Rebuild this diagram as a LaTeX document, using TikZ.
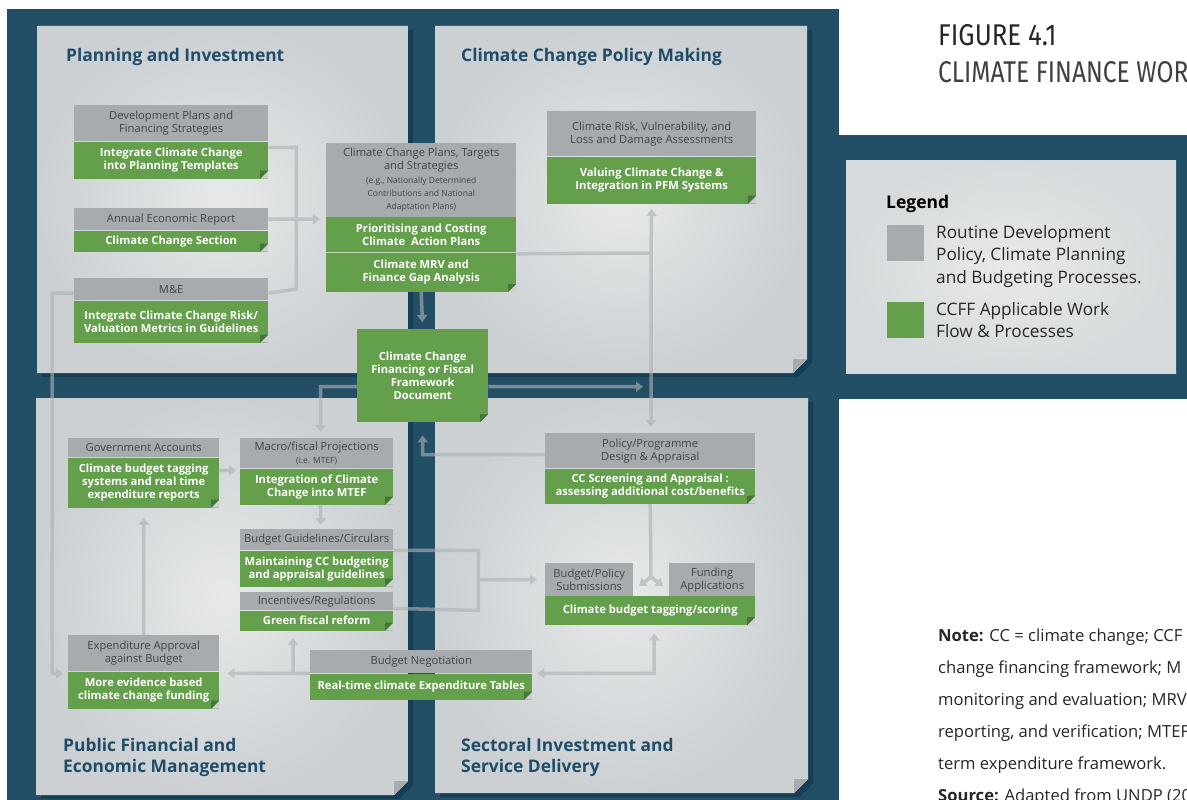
\documentclass[tikz,border=0pt]{standalone}
\usepackage{fontspec}
\setmainfont{Open Sans}
\newfontfamily\figfont[FakeStretch=0.86]{Fira Sans}
\newfontfamily\figlight[FakeStretch=0.82]{Fira Sans}
\usetikzlibrary{positioning,arrows.meta}

\definecolor{darkbg}{RGB}{35,79,102}
\definecolor{shadowbg}{RGB}{22,62,84}
\definecolor{panelhi}{RGB}{231,233,234}
\definecolor{panello}{RGB}{204,208,210}
\definecolor{headgray}{RGB}{167,171,173}
\definecolor{headtext}{RGB}{66,68,70}
\definecolor{flowgreen}{RGB}{100,160,76}
\definecolor{foldgreen}{RGB}{70,118,54}
\definecolor{titleblue}{RGB}{31,77,105}
\definecolor{connc}{RGB}{172,178,182}
\definecolor{foldgray}{RGB}{168,171,173}

\newcommand{\smallnote}{\fontsize{8.5}{10.5}\selectfont}

\tikzset{
  hd/.style={fill=headgray, text=headtext, align=center, inner sep=0pt, anchor=north west,
    font=\fontsize{11.2}{13}\selectfont},
  gr/.style={fill=flowgreen, text=white, align=center, inner sep=0pt,
    font=\bfseries\fontsize{11.2}{13}\selectfont},
  fold/.style={path picture={
      \fill[panello] (path picture bounding box.south east) -- ++(-8pt,0pt) -- ++(8pt,8pt) -- cycle;
      \fill[foldgreen] (path picture bounding box.south east) ++(-8pt,0pt) -- ++(8pt,8pt) -- ++(-8pt,0pt) -- cycle;}},
  conn/.style={draw=connc, line width=3.5pt},
  paneltitle/.style={inner sep=0pt, align=left, text=titleblue, font=\bfseries\fontsize{17.4}{21}\selectfont}
}

\begin{document}
\begin{tikzpicture}[x=1pt, y=-1pt, >={Triangle[length=7pt,width=10pt]}]
\useasboundingbox (0,0) rectangle (1187,800);
\clip (0,0) rectangle (1187,800);
\fill[white] (0,0) rectangle (1187,800);

% dark frame
\fill[darkbg] (7,9) rectangle (839,800);
\fill[darkbg] (839,135) rectangle (1187,399);

% four panels
\fill[shadowbg] (42,30) -- (413,30) -- (413,363) -- (399,377) -- (42,377) -- cycle;
\shade[inner color=panelhi, outer color=panello] (37,26) -- (408,26) -- (408,359) -- (394,373) -- (37,373) -- cycle;
\fill[foldgray] (408,359) -- (394,373) -- (394,359) -- cycle;

\fill[shadowbg] (440,30) -- (812,30) -- (812,363) -- (798,377) -- (440,377) -- cycle;
\shade[inner color=panelhi, outer color=panello] (435,26) -- (807,26) -- (807,359) -- (793,373) -- (435,373) -- cycle;
\fill[foldgray] (807,359) -- (793,373) -- (793,359) -- cycle;

\fill[shadowbg] (41,402) -- (413,402) -- (413,785) -- (399,799) -- (41,799) -- cycle;
\shade[inner color=panelhi, outer color=panello] (36,398) -- (408,398) -- (408,781) -- (394,795) -- (36,795) -- cycle;
\fill[foldgray] (408,781) -- (394,795) -- (394,781) -- cycle;

\fill[shadowbg] (440,402) -- (813,402) -- (813,783) -- (799,797) -- (440,797) -- cycle;
\shade[inner color=panelhi, outer color=panello] (435,398) -- (808,398) -- (808,779) -- (794,793) -- (435,793) -- cycle;
\fill[foldgray] (808,779) -- (794,793) -- (794,779) -- cycle;

% legend panel
\shade[inner color=panelhi, outer color=panello!60!panelhi] (846,160) rectangle (1176,373);

% panel titles
\node[paneltitle, anchor=base west] (plantitle) at (66,62) {Planning and Investment};
\node[paneltitle, anchor=base west] (policytitle) at (461,62) {Climate Change Policy Making};
\node[paneltitle, anchor=north west] (pfemtitle) at (63,738) {Public Financial and\\Economic Management};
\node[paneltitle, anchor=north west] (sisdtitle) at (461,738) {Sectoral Investment and\\Service Delivery};

% Planning and Investment
\node[hd, minimum width=194, minimum height=36] (devhd) at (74,105) {Development Plans and\\Financing Strategies};
\node[gr, fold, minimum width=194, minimum height=37, below=0pt of devhd] (devgr) {Integrate Climate Change\\into Planning Templates};
\node[hd, minimum width=194, minimum height=22] (aerhd) at (74,208) {Annual Economic Report};
\node[gr, fold, minimum width=194, minimum height=21, below=0pt of aerhd] (aergr) {Climate Change Section};
\node[hd, minimum width=194, minimum height=22] (mehd) at (74,278) {M\&E};
\node[gr, fold, minimum width=194, minimum height=42, below=0pt of mehd] (megr) {Integrate Climate Change Risk/\\Valuation Metrics in Guidelines};

% Climate Change Policy Making
\node[hd, minimum width=190, minimum height=74] (cchd) at (326,143) {Climate Change Plans, Targets\\and Strategies\\[1pt]{\smallnote (e.g., Nationally Determined}\\{\smallnote Contributions and National}\\{\smallnote Adaptation Plans)}};
\node[gr, minimum width=190, minimum height=37, below=-1pt of cchd] (ccgr1) {Prioritising and Costing\\Climate~ Action Plans};
\node[gr, fold, minimum width=190, minimum height=39, below=-1pt of ccgr1] (ccgr2) {Climate MRV and\\Finance Gap Analysis};
\draw[white!55!flowgreen, line width=1pt] (ccgr2.north west) -- (ccgr2.north east);
\node[hd, minimum width=209, minimum height=45] (riskhd) at (547,111) {Climate Risk, Vulnerability, and\\Loss and Damage Assessments};
\node[gr, fold, minimum width=209, minimum height=47, below=0pt of riskhd] (riskgr) {Valuing Climate Change \&\\Integration in PFM Systems};

% the framework document in the middle
\node[gr, fold, minimum width=131, minimum height=93, anchor=north west] (ccff) at (357,329) {Climate Change\\Financing or Fiscal\\Framework\\Document};

% Public Financial and Economic Management
\node[hd, minimum width=151, minimum height=19] (govhd) at (68,438) {Government Accounts};
\node[gr, fold, minimum width=151, minimum height=50, below=0pt of govhd] (govgr) {Climate budget tagging\\systems and real time\\expenditure reports};
\node[hd, minimum width=153, minimum height=30] (machd) at (240,438) {Macro/fiscal Projections\\{\smallnote (i.e. MTEF)}};
\node[gr, fold, minimum width=153, minimum height=36, below=0pt of machd] (macgr) {Integration of Climate\\Change into MTEF};
\node[hd, minimum width=153, minimum height=21] (bghd) at (240,529) {Budget Guidelines/Circulars};
\node[gr, fold, minimum width=153, minimum height=36, below=0pt of bghd] (bggr) {Maintaining CC budgeting\\and appraisal guidelines};
\node[hd, minimum width=153, minimum height=18] (inchd) at (240,592) {Incentives/Regulations};
\node[gr, fold, minimum width=153, minimum height=20, below=0pt of inchd] (incgr) {Green fiscal reform};
\node[hd, minimum width=151, minimum height=36] (exphd) at (68,635) {Expenditure Approval\\against Budget};
\node[gr, fold, minimum width=151, minimum height=37, below=0pt of exphd] (expgr) {More evidence based\\climate change funding};
\node[hd, minimum width=222, minimum height=23] (neghd) at (310,650) {Budget Negotiation};
\node[gr, fold, minimum width=222, minimum height=26, below=0pt of neghd] (neggr) {Real-time climate Expenditure Tables};

% Sectoral Investment and Service Delivery
\node[hd, minimum width=210, minimum height=35] (polhd) at (545,433) {Policy/Programme\\Design \& Appraisal};
\node[gr, fold, minimum width=210, minimum height=35, below=0pt of polhd] (polgr) {CC Screening and Appraisal :\\assessing additional cost/benefits};
\node[hd, minimum width=88, minimum height=33] (subhd) at (545,563) {Budget/Policy\\Submissions};
\node[hd, minimum width=86, minimum height=33] (fundhd) at (669,563) {Funding\\Applications};
\node[gr, fold, minimum width=210, minimum height=29, anchor=north west] (taggr) at (545,596) {Climate budget tagging/scoring};

% connectors
\coordinate (riskjoin) at (651,253);
\coordinate (forkjoin) at (651,577);
\begin{scope}[transparency group, opacity=0.62]
  \draw[conn] ([yshift=-6pt]devgr.north east) -| ([xshift=28pt]mehd.east) -- ([yshift=-4pt]mehd.east);
  \draw[conn,->, shorten >=6pt] (aerhd.east) -- (aerhd.east -| cchd.west);
  \draw[conn,->, shorten >=5pt] ([yshift=-4pt]mehd.west) -- ++(-22,0) |- ([yshift=-2pt]expgr.north west);
  \draw[conn,->, shorten >=7pt] (ccgr2.south) -- (ccff.north);
  \draw[conn] (ccgr1.south east) -- (riskjoin);
  \draw[conn,->, shorten >=5pt] (riskjoin) -- (riskgr.south);
  \draw[conn,->, shorten >=6pt] (riskjoin) -- (riskjoin |- polhd.north);
  \draw[conn,->, shorten >=8pt] ([yshift=-11pt]ccff.east) -- ([yshift=-11pt]ccff.east -| riskjoin);
  \draw[conn,->, shorten >=6pt] ([yshift=-11pt]ccff.west) -| ([xshift=4pt]machd.north);
  \draw[conn,->, shorten >=13pt] ([yshift=-4pt]polhd.west) -| (ccff.south);
  \draw[conn,->, shorten >=4pt] ([yshift=-13pt]govgr.north east) -- ([yshift=-13pt]govgr.north east -| machd.west);
  \draw[conn,->, shorten >=4pt] ([xshift=4pt]macgr.south) -- ([xshift=4pt]bghd.north);
  \draw[conn,->, shorten >=10pt] (exphd.north) -- (govgr.south);
  \draw[conn,->, shorten >=8pt] (neghd.south west) -- (neghd.south west -| expgr.east);
  \draw[conn,->, shorten >=7pt] ([xshift=-17pt]neghd.south west) -- ([xshift=-17pt]neghd.south west |- incgr.south);
  \draw[conn] (bghd.south east) -| ([xshift=85pt]inchd.south east) -- ([yshift=2pt]inchd.south east);
  \draw[conn,->, shorten >=8pt] ([xshift=85pt]bghd.south east |- subhd.west) -- (subhd.west);
  \draw[conn] (polgr.south) -- (forkjoin);
  \draw[conn,->] (forkjoin) -- ++(-12,9);
  \draw[conn,->] (forkjoin) -- ++(12,9);
  \draw[conn,<->, shorten <=5pt, shorten >=8pt] (neghd.south east) -| ([xshift=4pt]taggr.south);
\end{scope}

% legend
\node[anchor=base west, inner sep=0pt, font=\bfseries\fontsize{17.5}{20}\selectfont] (legtitle) at (886,208) {Legend};
\node[fill=headgray, minimum width=37, minimum height=36, inner sep=0pt, anchor=north west] (leggray) at (887,225) {};
\node[fill=flowgreen, minimum width=37, minimum height=36, inner sep=0pt, anchor=north west] (leggreen) at (887,302) {};
\node[anchor=north west, inner sep=0pt, align=left, text=black!85, font=\fontsize{17.2}{22.5}\selectfont] (legroutine) at (936,225) {Routine Development\\Policy, Climate Planning\\and Budgeting Processes.};
\node[anchor=north west, inner sep=0pt, align=left, text=black!85, font=\fontsize{17.2}{22.5}\selectfont] (legccff) at (936,302) {CCFF Applicable Work\\Flow \& Processes};

% figure title and note
\node[anchor=base west, inner sep=0pt, text=black!85, font=\figfont\fontsize{30}{30}\selectfont] (figno) at (938,46) {FIGURE 4.1};
\node[anchor=base west, inner sep=0pt, text=black!75, font=\figlight\fontsize{30}{30}\selectfont] (figname) at (938,82) {CLIMATE FINANCE WOR};
\node[anchor=north west, inner sep=0pt, align=left, text=black!85, font=\fontsize{16.6}{32}\selectfont] (note) at (938,629) {\textbf{Note:} CC = climate change; CCF\\change financing framework; M\\monitoring and evaluation; MRV\\reporting, and verification; MTEF\\term expenditure framework.\\\textbf{Source:} Adapted from UNDP (20};
\end{tikzpicture}
\end{document}
